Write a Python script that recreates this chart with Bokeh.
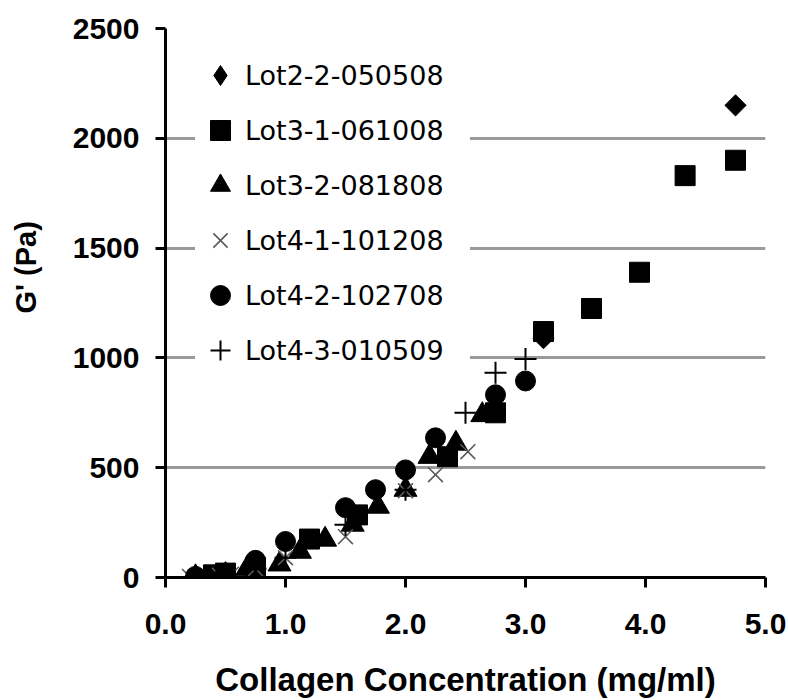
from bokeh.plotting import figure
from bokeh.layouts import row
from bokeh.models import Range1d, FixedTicker, Legend, LegendItem, Label
from bokeh.embed import file_html
from bokeh.resources import INLINE
import numpy as np

# ---- data ----
lot22_x = [0.4, 3.15, 4.75]
lot22_y = [8, 1090, 2150]

lot31_x = [0.4, 0.5, 0.75, 1.2, 1.6, 2.35, 2.75, 3.15, 3.55, 3.95, 4.33, 4.75]
lot31_y = [12, 20, 45, 175, 285, 550, 750, 1120, 1225, 1390, 1830, 1900]

lot32_x = [0.25, 0.5, 0.68, 0.95, 1.12, 1.33, 1.56, 1.77, 2.0, 2.2, 2.42, 2.64]
lot32_y = [2, 12, 40, 60, 118, 173, 241, 323, 400, 550, 610, 740]

lot41_x = [0.2, 0.45, 0.55, 0.75, 1.0, 1.5, 2.0, 2.25, 2.52]
lot41_y = [5, 10, 15, 40, 90, 186, 395, 468, 573]

lot42_x = [0.25, 0.5, 0.75, 1.0, 1.5, 1.75, 2.0, 2.25, 2.75, 3.0]
lot42_y = [5, 20, 78, 164, 318, 400, 490, 636, 832, 895]

lot43_x = [0.25, 0.5, 0.75, 1.0, 1.5, 2.0, 2.5, 2.75, 3.0]
lot43_y = [3, 10, 40, 90, 240, 400, 750, 932, 995]

series_names = ["Lot2-2-050508", "Lot3-1-061008", "Lot3-2-081808",
                "Lot4-1-101208", "Lot4-2-102708", "Lot4-3-010509"]

x_ticks = [0, 1, 2, 3, 4, 5]
x_tick_labels = ["0.0", "1.0", "2.0", "3.0", "4.0", "5.0"]
y_ticks = [0, 500, 1000, 1500, 2000, 2500]
y_tick_labels = ["0", "500", "1000", "1500", "2000", "2500"]

x_title = "Collagen Concentration (mg/ml)"
y_title = "G' (Pa)"

TICK_FONT = "Liberation Sans"
TITLE_W = 60

# ---- narrow strip holding the y-axis title (it sits above the frame's middle) ----
ytitle_fig = figure(width=TITLE_W, height=700, output_backend="svg", toolbar_location=None,
                    x_range=Range1d(0, 1), y_range=Range1d(0, 1),
                    min_border=0, min_border_left=0, min_border_right=0,
                    min_border_top=0, min_border_bottom=0)
ytitle_fig.axis.visible = False
ytitle_fig.grid.visible = False
ytitle_fig.outline_line_color = None
ytitle_fig.add_layout(Label(x=25, y=264, x_units="screen", y_units="screen", angle=np.pi / 2,
                            text=y_title, text_align="left", text_baseline="alphabetic",
                            text_font=TICK_FONT, text_font_style="bold", text_font_size="29px",
                            text_color="black"))

# ---- main figure ----
p = figure(width=788 - TITLE_W, height=700, output_backend="svg", toolbar_location=None,
           x_range=Range1d(0, 5), y_range=Range1d(0, 2500),
           min_border_left=165 - TITLE_W, min_border_right=23,
           min_border_top=28, min_border_bottom=122)
p.outline_line_color = None
p.background_fill_color = "white"
p.border_fill_color = "white"

p.xaxis.ticker = FixedTicker(ticks=x_ticks)
p.xaxis.major_label_overrides = dict(zip(x_ticks, x_tick_labels))
p.yaxis.ticker = FixedTicker(ticks=y_ticks)
p.yaxis.major_label_overrides = dict(zip(y_ticks, y_tick_labels))

for ax in (p.xaxis, p.yaxis):
    ax.axis_line_width = 3
    ax.axis_line_color = "black"
    ax.major_tick_line_width = 3
    ax.major_tick_line_color = "black"
    ax.major_tick_out = 10
    ax.major_tick_in = 0
    ax.minor_tick_line_color = None
    ax.major_label_text_font = TICK_FONT
    ax.major_label_text_font_style = "bold"
    ax.major_label_text_font_size = "30px"
    ax.major_label_text_color = "black"
    ax.axis_label_text_font = TICK_FONT
    ax.axis_label_text_font_style = "bold"
    ax.axis_label_text_color = "black"

p.xaxis.major_label_standoff = 26
p.yaxis.major_label_standoff = 16
p.xaxis.axis_label = x_title
p.xaxis.axis_label_text_font_size = "33px"
p.xaxis.axis_label_standoff = 24

p.xgrid.grid_line_color = None
p.ygrid.grid_line_color = "#9a9a9a"
p.ygrid.grid_line_width = 3

# ---- glyphs ----
r22 = p.scatter(lot22_x, lot22_y, marker="square", angle=np.pi / 4, size=15,
                fill_color="black", line_color="black")
# legend-only twin of the Lot2-2 series (legend glyphs are never rotated)
r22_key = p.scatter(lot22_x, lot22_y, marker="diamond", size=20,
                    fill_color="black", line_color="black", visible=False)
r31 = p.scatter(lot31_x, lot31_y, marker="square", size=20,
                fill_color="black", line_color="black")
r32 = p.scatter(lot32_x, lot32_y, marker="triangle", size=23,
                fill_color="black", line_color="black")
r41 = p.scatter(lot41_x, lot41_y, marker="x", size=21,
                line_color="#5a5a5a", line_width=1.6)
r42 = p.scatter(lot42_x, lot42_y, marker="circle", size=20,
                fill_color="black", line_color="black")
r43 = p.scatter(lot43_x, lot43_y, marker="cross", size=22,
                line_color="black", line_width=2)

renderers = [r22_key, r31, r32, r41, r42, r43]
legend = Legend(items=[LegendItem(label=n, renderers=[r]) for n, r in zip(series_names, renderers)],
                location=(30, 202), orientation="vertical",
                glyph_width=50, glyph_height=50, label_height=50,
                label_width=225, label_standoff=0, spacing=5, padding=8, margin=0,
                border_line_color=None, background_fill_color="white", background_fill_alpha=1.0,
                label_text_font="DejaVu Sans", label_text_font_size="27px",
                label_text_color="black")
p.add_layout(legend, "center")

layout = row(ytitle_fig, p, spacing=0)
open("out.html", "w").write(file_html(layout, INLINE))
